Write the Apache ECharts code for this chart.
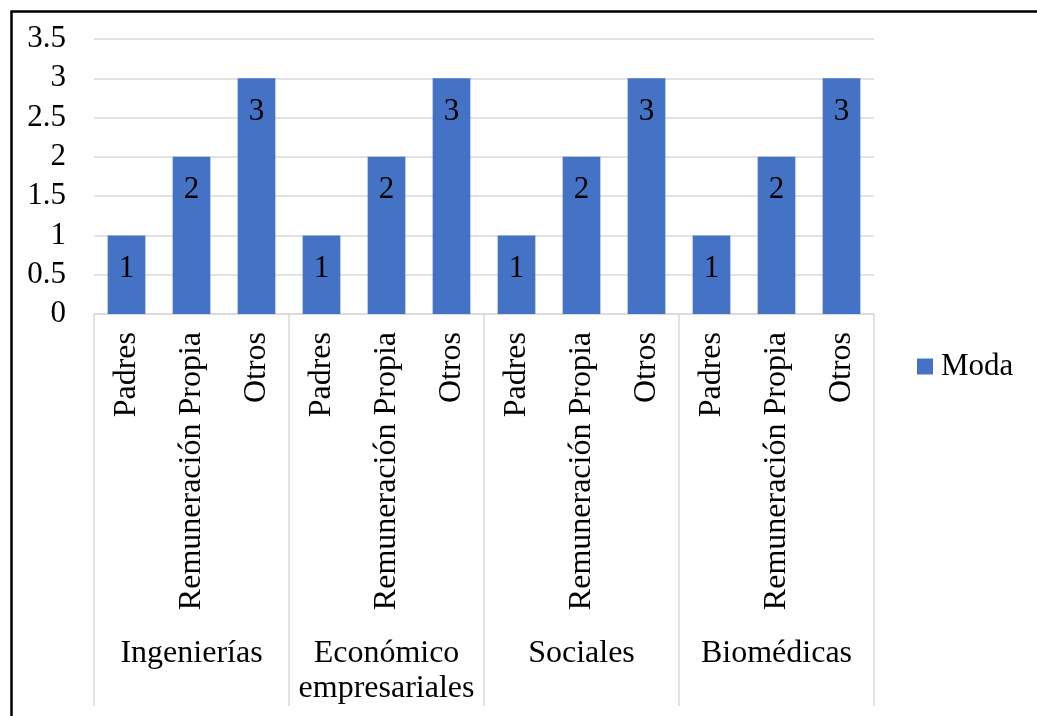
<!DOCTYPE html>
<html>
<head>
<meta charset="utf-8">
<script src="https://cdn.jsdelivr.net/npm/echarts@6/dist/echarts.min.js"></script>
<style>
html,body{margin:0;padding:0;background:#fff;}
#c{width:1037px;height:716px;}
</style>
</head>
<body>
<div id="c"></div>
<script>
const subCategories = ['Padres','Remuneración Propia','Otros','Padres','Remuneración Propia','Otros','Padres','Remuneración Propia','Otros','Padres','Remuneración Propia','Otros'];
const groupCategories = ['Ingenierías','Económico\nempresariales','Sociales','Biomédicas'];
const modaValues = [1,2,3,1,2,3,1,2,3,1,2,3];
const seriesName = 'Moda';

const FONT = '"Liberation Serif","Times New Roman",serif';
const chart = echarts.init(document.getElementById('c'));
chart.setOption({
  animation: false,
  backgroundColor: '#fff',
  textStyle: {fontFamily: FONT},
  graphic: [{
    type: 'rect', left: 9, top: 9, z: 100, silent: true,
    shape: {width: 1200, height: 900},
    style: {fill: 'none', stroke: '#000', lineWidth: 2.5}
  }],
  legend: {
    data: [seriesName],
    left: 912, top: 346,
    itemWidth: 16, itemHeight: 16, itemGap: 10,
    icon: 'rect',
    textStyle: {fontFamily: FONT, fontSize: 31, color: '#000', padding: [0,0,0,3]}
  },
  grid: {left: 94, right: 163, top: 39, bottom: 402, containLabel: false},
  xAxis: [{
    type: 'category',
    data: subCategories,
    position: 'bottom',
    axisLine: {show: true, lineStyle: {color: '#d9d9d9', width: 1.5}},
    axisTick: {show: false},
    axisLabel: {interval: 0, rotate: 90, margin: 18, fontFamily: FONT, fontSize: 32, color: '#000'}
  }, {
    type: 'category',
    data: groupCategories,
    position: 'bottom',
    axisLine: {show: false},
    axisTick: {show: true, length: 392, lineStyle: {color: '#d9d9d9', width: 1.5}},
    axisLabel: {interval: 0, margin: 322, fontFamily: FONT, fontSize: 32, lineHeight: 35, color: '#000'}
  }],
  yAxis: {
    type: 'value', min: 0, max: 3.5, interval: 0.5,
    axisLine: {show: false}, axisTick: {show: false},
    splitLine: {lineStyle: {color: '#d9d9d9', width: 1.5}},
    axisLabel: {margin: 28, fontFamily: FONT, fontSize: 31, color: '#000'}
  },
  series: [{
    name: seriesName,
    type: 'bar',
    xAxisIndex: 0,
    data: modaValues,
    barWidth: '58%',
    itemStyle: {color: '#4472C4'},
    label: {show: true, position: 'insideTop', distance: 18, fontFamily: FONT, fontSize: 31, color: '#000'}
  }]
});
</script>
</body>
</html>
